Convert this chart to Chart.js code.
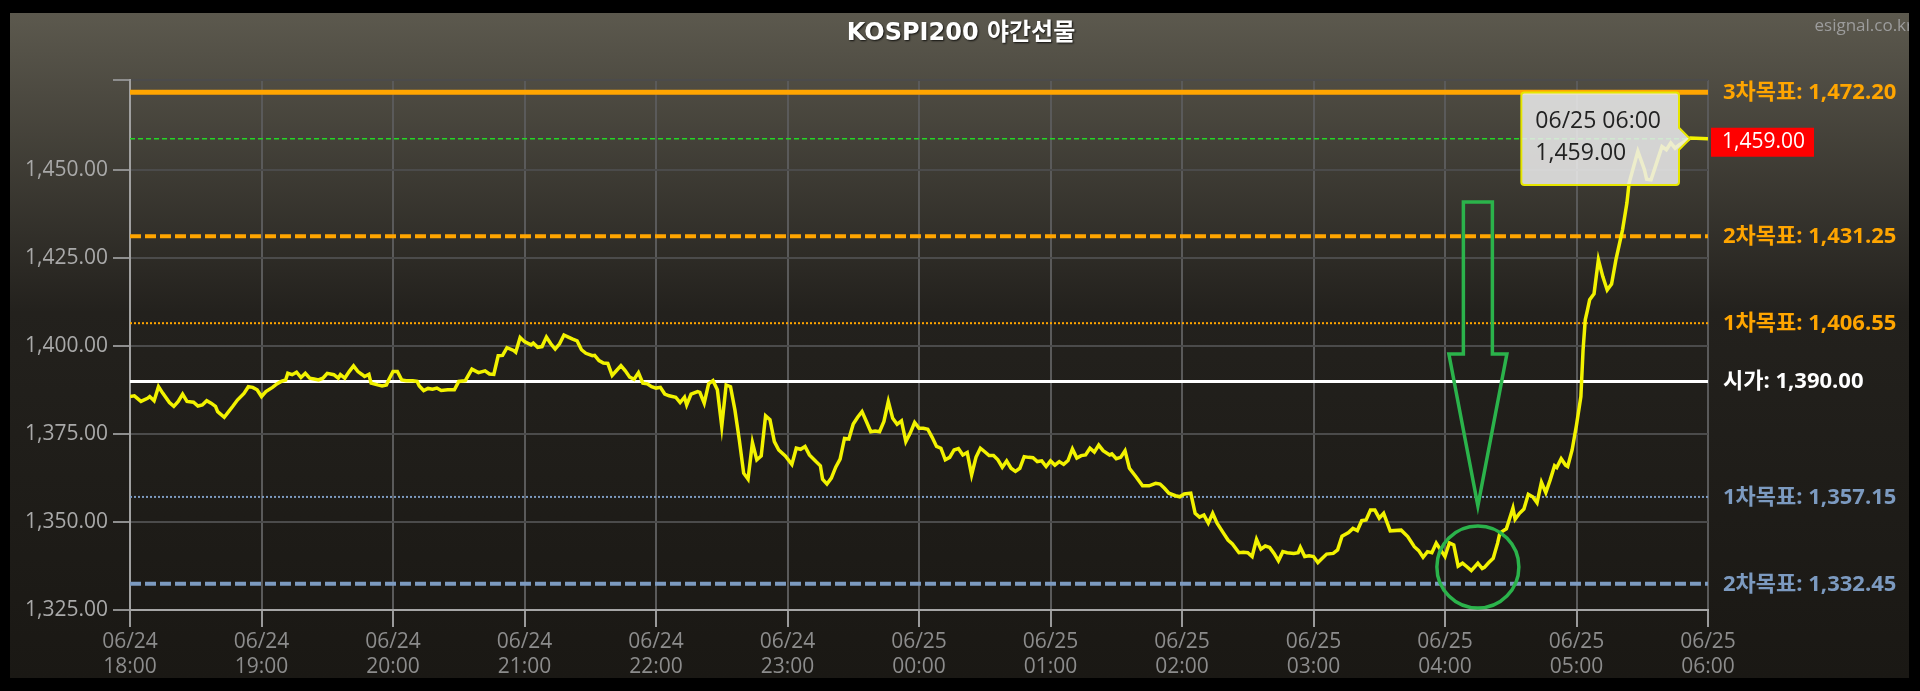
<!DOCTYPE html>
<html>
<head>
<meta charset="utf-8">
<script src="https://cdn.jsdelivr.net/npm/chart.js@4.4.1/dist/chart.umd.min.js"></script>
<style>
  html, body { margin: 0; padding: 0; background: #000; }
  #wrap { width: 1920px; height: 691px; }
</style>
</head>
<body>
<div id="wrap"><canvas id="chart" width="1920" height="691"></canvas></div>
<script>
// KOSPI200 night futures, 06/24 18:00 -> 06/25 06:00
const times = [
  '18:00','18:02','18:05','18:08','18:09','18:11','18:13','18:15','18:18','18:20','18:22','18:24','18:26','18:29','18:31','18:33','18:35','18:37','18:39','18:40','18:43','18:45','18:47','18:49','18:52','18:54','18:56','18:58',
  '19:00','19:02','19:05','19:07','19:09','19:11','19:12','19:14','19:16','19:18','19:20','19:22','19:24','19:26','19:28','19:30','19:33','19:35','19:36','19:38','19:40','19:42','19:44','19:46','19:47','19:49','19:50','19:53','19:55','19:57','19:58',
  '20:00','20:02','20:04','20:06','20:09','20:11','20:12','20:14','20:16','20:18','20:20','20:22','20:25','20:28','20:30','20:33','20:36','20:39','20:42','20:44','20:46','20:48','20:50','20:52','20:55','20:56','20:58',
  '21:00','21:03','21:04','21:06','21:08','21:10','21:12','21:14','21:16','21:18','21:20','21:22','21:24','21:26','21:28','21:31','21:32','21:34','21:36','21:38','21:40','21:42','21:44','21:46','21:48','21:50','21:52','21:54','21:56','21:58',
  '22:00','22:02','22:04','22:06','22:09','22:11','22:13','22:14','22:16','22:19','22:20','22:22','22:24','22:26','22:28','22:30','22:32','22:34','22:36','22:38','22:40','22:42','22:44','22:46','22:48','22:50','22:52','22:54','22:56','22:59',
  '23:02','23:04','23:06','23:08','23:10','23:13','23:15','23:16','23:18','23:20','23:22','23:24','23:26','23:28','23:30','23:32','23:34','23:36','23:38','23:40','23:42','23:44','23:46','23:48','23:50','23:52','23:54','23:56','23:58',
  '00:00','00:02','00:04','00:06','00:08','00:10','00:12','00:14','00:16','00:18','00:20','00:22','00:24','00:26','00:28','00:30','00:32','00:34','00:36','00:38','00:40','00:42','00:44','00:46','00:48','00:50','00:52','00:54','00:56','00:58',
  '01:00','01:02','01:04','01:06','01:08','01:10','01:12','01:14','01:16','01:18','01:20','01:22','01:24','01:27','01:28','01:30','01:32','01:34','01:36','01:39','01:42','01:45','01:48','01:50','01:52','01:54','01:57','01:59',
  '02:01','02:04','02:06','02:08','02:10','02:12','02:14','02:16','02:19','02:21','02:23','02:26','02:28','02:30','02:32','02:34','02:36','02:38','02:40','02:42','02:44','02:46','02:48','02:51','02:53','02:54','02:56','02:58',
  '03:00','03:02','03:04','03:06','03:09','03:11','03:13','03:16','03:18','03:20','03:22','03:24','03:26','03:28','03:30','03:32','03:35','03:40','03:43','03:46','03:48','03:50','03:52','03:54','03:56','03:58',
  '04:00','04:02','04:04','04:06','04:08','04:10','04:12','04:15','04:17','04:18','04:20','04:22','04:24','04:25','04:26','04:28','04:31','04:32','04:34','04:36','04:38','04:40','04:42','04:44','04:46','04:48','04:50','04:51','04:53','04:55','04:56','04:58',
  '05:00','05:02','05:03','05:04','05:05','05:06','05:08','05:10','05:12','05:14','05:16','05:18','05:21','05:23','05:24','05:28','05:31','05:32','05:34','05:37','05:39','05:41','05:43','05:45','05:47','05:52',
  '06:00'
];
const prices = [
  1385.7,1385.9,1384.3,1385.2,1385.7,1384.5,1388.5,1386.6,1384.0,1382.9,1384.3,1386.4,1384.3,1384.1,1383.0,1383.3,1384.5,1383.8,1382.9,1381.4,1379.8,1381.4,1383.0,1384.7,1386.6,1388.5,1388.3,1387.6,
  1385.7,1387.1,1388.3,1389.3,1390.0,1390.4,1392.3,1391.9,1392.6,1391.1,1392.3,1390.9,1390.7,1390.4,1390.9,1392.3,1391.9,1390.9,1391.9,1390.9,1392.8,1394.4,1392.8,1391.9,1391.4,1392.0,1389.5,1389.0,1388.7,1389.0,1390.4,
  1392.8,1392.8,1390.4,1390.2,1390.2,1390.0,1388.7,1387.4,1388.0,1387.8,1388.1,1387.4,1387.6,1387.6,1390.0,1390.2,1393.5,1392.5,1393.0,1392.1,1392.0,1397.3,1397.4,1399.6,1398.8,1398.3,1402.5,
  1401.3,1400.4,1400.9,1399.7,1399.9,1402.6,1400.7,1399.2,1400.7,1403.2,1402.6,1402.0,1401.5,1399.0,1398.0,1397.3,1397.4,1395.9,1395.2,1395.1,1391.7,1393.1,1394.5,1393.0,1391.2,1390.6,1392.5,1389.5,1389.3,1388.5,
  1388.1,1388.3,1386.4,1385.9,1385.5,1384.0,1385.5,1383.3,1386.4,1387.1,1386.9,1383.8,1389.3,1390.2,1387.6,1377.2,1389.0,1388.5,1381.9,1373.4,1363.9,1362.2,1372.6,1367.7,1368.8,1380.2,1379.1,1372.9,1370.5,1368.8,
  1366.4,1371.0,1370.7,1371.5,1369.1,1367.2,1366.0,1362.2,1360.8,1362.5,1365.6,1367.9,1373.8,1373.6,1377.9,1379.8,1381.4,1378.6,1375.7,1375.9,1375.7,1378.6,1384.3,1379.5,1377.8,1378.8,1372.9,1375.3,1378.3,
  1376.7,1376.7,1376.4,1374.1,1371.5,1371.0,1367.7,1368.4,1370.5,1370.9,1369.1,1369.8,1363.4,1368.4,1371.0,1370.0,1368.9,1368.9,1367.7,1365.6,1367.4,1365.3,1364.4,1365.3,1368.6,1368.4,1368.3,1367.2,1367.4,1365.8,
  1367.4,1366.2,1367.2,1366.4,1367.5,1370.8,1368.2,1368.9,1369.1,1371.0,1369.9,1371.9,1370.3,1369.1,1369.4,1368.0,1368.4,1370.3,1365.3,1362.9,1360.3,1360.3,1361.0,1360.8,1359.6,1358.2,1357.5,1357.2,
  1358.0,1358.2,1352.5,1351.4,1352.0,1349.7,1352.5,1349.7,1346.8,1344.9,1343.8,1341.3,1341.4,1341.3,1340.2,1345.1,1342.3,1343.2,1342.8,1341.1,1339.0,1341.6,1341.3,1341.1,1341.3,1342.8,1340.2,1340.4,
  1340.2,1338.5,1339.7,1340.9,1341.1,1342.1,1346.0,1347.0,1348.2,1347.6,1350.4,1350.6,1353.4,1353.4,1351.1,1352.5,1347.5,1347.7,1345.9,1343.0,1341.9,1340.0,1341.6,1341.3,1344.0,1342.1,
  1340.2,1344.1,1343.5,1337.5,1338.3,1337.3,1336.2,1338.3,1336.8,1337.1,1338.5,1339.7,1344.0,1346.8,1347.3,1348.1,1354.0,1350.8,1352.5,1353.7,1357.9,1357.2,1355.5,1361.3,1358.4,1362.0,1366.0,1365.5,1368.0,1366.2,1365.8,1370.5,
  1377.6,1385.7,1399.0,1407.5,1410.3,1413.2,1414.9,1424.6,1419.8,1416.0,1417.7,1424.6,1433.1,1440.7,1446.4,1455.4,1450.2,1447.5,1447.3,1453.0,1456.8,1455.9,1457.8,1456.3,1457.3,1459.2,
  1459.0
];

const xTickLabels = [
  ['06/24','18:00'],['06/24','19:00'],['06/24','20:00'],['06/24','21:00'],['06/24','22:00'],['06/24','23:00'],
  ['06/25','00:00'],['06/25','01:00'],['06/25','02:00'],['06/25','03:00'],['06/25','04:00'],['06/25','05:00'],['06/25','06:00']
];

// target / open levels shown on the right
const levelNames  = ['3차목표', '2차목표', '1차목표', '시가', '1차목표', '2차목표'];
const levelValues = [1472.20, 1431.25, 1406.55, 1390.00, 1357.15, 1332.45];
const levelColors = ['#ffa500', '#ffa500', '#ffa500', '#ffffff', '#7c9ac0', '#7c9ac0'];
const levelWidths = [5, 4, 2, 3, 2, 4];
const levelDashes = [[], [11, 4], [2, 2], [], [2, 2], [11, 4]];

// hand drawn green marks (time / value anchors)
const markTime = '04:15';
const markCircleValue = 1337.2;
const arrowTopValue = 1441.0;
const arrowWingValue = 1397.8;
const arrowTipValue = 1354.6;

const dayOf = t => (+t.slice(0, 2) >= 18 ? '06/24' : '06/25');
function toMinutes(t) {
  const [h, m] = t.split(':').map(Number);
  return ((h + 6) % 24) * 60 + m;
}
const fmt = v => v.toLocaleString('en-US', { minimumFractionDigits: 2, maximumFractionDigits: 2 });

const last = prices[prices.length - 1];
const xMin = toMinutes(times[0]);
const xMax = toMinutes(times[times.length - 1]);

const datasets = [{
  label: 'KOSPI200',
  data: times.map((t, i) => ({ x: toMinutes(t), y: prices[i] })),
  borderColor: '#f2f200',
  borderWidth: 3.5,
  pointRadius: 0,
  tension: 0
}, {
  label: 'current',
  data: [{ x: xMin, y: last }, { x: xMax, y: last }],
  borderColor: '#25d625',
  borderWidth: 1.5,
  borderDash: [5, 3],
  pointRadius: 0
}];
levelValues.forEach((v, i) => {
  datasets.push({
    label: levelNames[i],
    data: [{ x: xMin, y: v }, { x: xMax, y: v }],
    borderColor: levelColors[i],
    borderWidth: levelWidths[i],
    borderDash: levelDashes[i],
    pointRadius: 0
  });
});

const panel = { x: 10, y: 13, w: 1899, h: 665 };

const backdrop = {
  id: 'backdrop',
  beforeDraw(chart) {
    const ctx = chart.ctx;
    ctx.save();
    ctx.fillStyle = '#000';
    ctx.fillRect(0, 0, chart.width, chart.height);
    const g = ctx.createLinearGradient(0, panel.y, 0, panel.y + panel.h);
    g.addColorStop(0, '#5c594e');
    g.addColorStop(0.45, '#23211d');
    g.addColorStop(1, '#1a1814');
    ctx.fillStyle = g;
    ctx.fillRect(panel.x, panel.y, panel.w, panel.h);

    ctx.font = 'bold 24px "DejaVu Sans", "Noto Sans CJK KR"';
    ctx.textAlign = 'center';
    ctx.textBaseline = 'alphabetic';
    ctx.shadowColor = 'rgba(0,0,0,0.8)';
    ctx.shadowOffsetX = 1;
    ctx.shadowOffsetY = 1;
    ctx.shadowBlur = 2;
    ctx.fillStyle = '#ffffff';
    ctx.fillText('KOSPI200 야간선물', 961, 40);
    ctx.restore();

    ctx.save();
    ctx.beginPath();
    ctx.rect(panel.x, panel.y, panel.w, panel.h);
    ctx.clip();
    ctx.font = '17px "Open Sans"';
    ctx.textAlign = 'right';
    ctx.fillStyle = '#9c9c9c';
    ctx.fillText('esignal.co.kr', 1913, 31);
    ctx.restore();
  }
};

const overlay = {
  id: 'overlay',
  afterDatasetsDraw(chart) {
    const ctx = chart.ctx;
    const xs = chart.scales.x, ys = chart.scales.y;
    const right = chart.chartArea.right;
    ctx.save();
    ctx.textAlign = 'left';
    ctx.textBaseline = 'alphabetic';
    ctx.font = 'bold 22px "Open Sans", "Noto Sans CJK KR"';
    levelValues.forEach((v, i) => {
      ctx.fillStyle = levelColors[i];
      ctx.fillText(levelNames[i] + ': ' + fmt(v), right + 15, ys.getPixelForValue(v) + 7);
    });

    // current price tag
    const py = ys.getPixelForValue(last);
    ctx.fillStyle = '#ff0000';
    ctx.fillRect(right + 3, py - 11, 103, 29);
    ctx.fillStyle = '#ffffff';
    ctx.font = '21px "Open Sans"';
    ctx.fillText(fmt(last), right + 14, py + 9);

    // green marks
    const mx = xs.getPixelForValue(toMinutes(markTime));
    ctx.strokeStyle = '#2bb34b';
    ctx.lineWidth = 3.5;
    ctx.lineJoin = 'miter';
    const top = ys.getPixelForValue(arrowTopValue);
    const wing = ys.getPixelForValue(arrowWingValue);
    const tip = ys.getPixelForValue(arrowTipValue);
    ctx.beginPath();
    ctx.moveTo(mx - 14.5, top);
    ctx.lineTo(mx + 14.5, top);
    ctx.lineTo(mx + 14.5, wing);
    ctx.lineTo(mx + 29, wing);
    ctx.lineTo(mx, tip);
    ctx.lineTo(mx - 29, wing);
    ctx.lineTo(mx - 14.5, wing);
    ctx.closePath();
    ctx.stroke();

    ctx.beginPath();
    ctx.arc(mx, ys.getPixelForValue(markCircleValue), 41, 0, Math.PI * 2);
    ctx.stroke();
    ctx.restore();
  }
};

const chart = new Chart(document.getElementById('chart'), {
  type: 'line',
  data: { datasets },
  plugins: [backdrop, overlay],
  options: {
    responsive: false,
    animation: false,
    events: [],
    layout: { padding: { left: 0, right: 212, top: 80, bottom: 0 } },
    scales: {
      x: {
        type: 'linear',
        min: xMin,
        max: xMax,
        afterFit: s => { s.height = 81; },
        ticks: {
          stepSize: 60,
          autoSkip: false,
          maxRotation: 0,
          padding: 2,
          color: '#8c8c8c',
          font: { family: 'Open Sans', size: 21, lineHeight: 1.2 },
          callback: (v, i) => xTickLabels[i]
        },
        grid: { color: '#5a5a5a', lineWidth: 2, tickLength: 17, tickColor: '#9a9a9a', tickWidth: 2 },
        border: { color: '#a6a6a6', width: 2 }
      },
      y: {
        min: 1325,
        max: 1475.7,
        afterFit: s => { s.width = 130; },
        ticks: {
          stepSize: 25,
          padding: 5,
          color: '#a9a9a9',
          font: { family: 'Open Sans', size: 21 },
          callback: v => (Math.abs(v - Math.round(v / 25) * 25) < 0.01 ? fmt(v) : '')
        },
        grid: { color: '#4b4b4b', lineWidth: 2, tickLength: 17, tickColor: '#8e8e8e', tickWidth: 2 },
        border: { color: '#a0a0a0', width: 2 }
      }
    },
    plugins: {
      legend: { display: false },
      title: { display: false },
      tooltip: {
        enabled: true,
        xAlign: 'right',
        yAlign: 'center',
        caretSize: 11,
        caretPadding: 18,
        backgroundColor: 'rgba(236,236,236,0.86)',
        borderColor: '#e6e600',
        borderWidth: 2,
        cornerRadius: 3,
        titleColor: '#222222',
        bodyColor: '#222222',
        titleFont: { family: 'Open Sans', size: 23, weight: 'normal', lineHeight: 1.1 },
        bodyFont: { family: 'Open Sans', size: 23, weight: 'normal', lineHeight: 1.1 },
        titleMarginBottom: 7,
        padding: { top: 16, bottom: 19, left: 14, right: 18 },
        displayColors: false,
        filter: item => item.datasetIndex === 0,
        callbacks: {
          title: items => dayOf(times[items[0].dataIndex]) + ' ' + times[items[0].dataIndex],
          label: item => fmt(item.parsed.y)
        }
      }
    }
  }
});

chart.tooltip.setActiveElements([{ datasetIndex: 0, index: prices.length - 1 }], { x: 0, y: 0 });
chart.update();
</script>
</body>
</html>
